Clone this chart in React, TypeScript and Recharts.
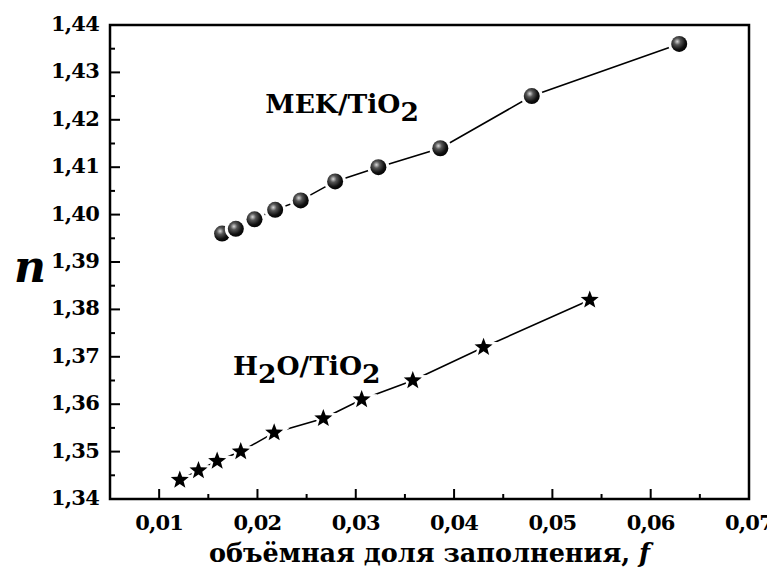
import React from 'react';
import { ScatterChart, Scatter, XAxis, YAxis, ReferenceArea, ReferenceDot } from 'recharts';

const mekF = [0.0164, 0.0178, 0.0197, 0.0218, 0.0244, 0.0279, 0.0323, 0.0386, 0.0479, 0.0629];
const mekN = [1.396, 1.397, 1.399, 1.401, 1.403, 1.407, 1.41, 1.414, 1.425, 1.436];
const h2oF = [0.0121, 0.014, 0.0159, 0.0183, 0.0217, 0.0267, 0.0306, 0.0358, 0.043, 0.0538];
const h2oN = [1.344, 1.346, 1.348, 1.35, 1.354, 1.357, 1.361, 1.365, 1.372, 1.382];

const xTicks = [0.01, 0.015, 0.02, 0.025, 0.03, 0.035, 0.04, 0.045, 0.05, 0.055, 0.06, 0.065, 0.07];
const yTicks = [1.34, 1.345, 1.35, 1.355, 1.36, 1.365, 1.37, 1.375, 1.38, 1.385, 1.39, 1.395, 1.4, 1.405, 1.41, 1.415, 1.42, 1.425, 1.43, 1.435, 1.44];

const xLabel = 'объёмная доля заполнения, ';
const yLabel = 'n';
const mekLabel = { x: 0.0208, y: 1.4214 };
const h2oLabel = { x: 0.0175, y: 1.3662 };

const mekData = mekF.map((f, i) => ({ f, n: mekN[i] }));
const h2oData = h2oF.map((f, i) => ({ f, n: h2oN[i] }));

const FONT = "'DejaVu Serif', serif";
const TICK_SIZE = 10;
const txt = (size: number, extra: any = {}) => ({ fontFamily: FONT, fontWeight: 'bold', fontSize: size, fill: '#000', ...extra });

const fmt = (v: number) => v.toFixed(2).replace('.', ',');

const XTick = (props: any) => {
  const { x, y, payload } = props;
  const v = payload.value as number;
  const major = Math.round(v * 1000) % 10 === 0;
  const axisY = y - TICK_SIZE;
  return (
    <g>
      <line x1={x} x2={x} y1={axisY} y2={axisY - (major ? 10 : 5)} stroke="#000" strokeWidth={2} />
      {major && (
        <text x={x} y={axisY + 31} textAnchor="middle" style={txt(21, { letterSpacing: -0.8 })}>
          {fmt(v)}
        </text>
      )}
    </g>
  );
};

const YTick = (props: any) => {
  const { x, y, payload } = props;
  const v = payload.value as number;
  const major = Math.round(v * 1000) % 10 === 0;
  const axisX = x + TICK_SIZE;
  return (
    <g>
      <line x1={axisX} x2={axisX + (major ? 10 : 5)} y1={y} y2={y} stroke="#000" strokeWidth={2} />
      {major && (
        <text x={axisX - 11} y={y + 6} textAnchor="end" style={txt(21, { letterSpacing: -0.8 })}>
          {fmt(v)}
        </text>
      )}
    </g>
  );
};

const Sphere = (props: any) => {
  const { cx, cy } = props;
  if (cx == null || cy == null) return null;
  return (
    <g>
      <defs>
        <radialGradient id="sph" cx="0.38" cy="0.35" r="0.7">
          <stop offset="0%" stopColor="#d8d8d8" />
          <stop offset="30%" stopColor="#555" />
          <stop offset="70%" stopColor="#111" />
          <stop offset="100%" stopColor="#000" />
        </radialGradient>
      </defs>
      <circle cx={cx} cy={cy} r={11} fill="#fff" />
      <circle cx={cx} cy={cy} r={8} fill="url(#sph)" />
    </g>
  );
};

const Star = (props: any) => {
  const { cx, cy } = props;
  if (cx == null || cy == null) return null;
  const R = 9.5;
  const r = 4;
  const pts: string[] = [];
  for (let k = 0; k < 10; k++) {
    const rad = k % 2 === 0 ? R : r;
    const a = -Math.PI / 2 + (k * Math.PI) / 5;
    pts.push(`${cx + rad * Math.cos(a)},${cy + rad * Math.sin(a)}`);
  }
  const d = pts.join(' ');
  return (
    <g>
      <polygon points={d} fill="#fff" stroke="#fff" strokeWidth={5} />
      <polygon points={d} fill="#000" />
    </g>
  );
};

const Annot = (kind: string) => (props: any) => {
  const { viewBox } = props;
  const x = viewBox.x + (viewBox.width || 0) / 2;
  const y = viewBox.y + (viewBox.height || 0) / 2;
  return (
    <text x={x} y={y} style={txt(26.5)}>
      {kind === 'MEK' ? (
        <>
          <tspan>MEK/TiO</tspan>
          <tspan dy={8}>2</tspan>
        </>
      ) : (
        <>
          <tspan>H</tspan>
          <tspan dy={8}>2</tspan>
          <tspan dy={-8}>O/TiO</tspan>
          <tspan dy={8}>2</tspan>
        </>
      )}
    </text>
  );
};

const XLabel = (props: any) => {
  const { viewBox } = props;
  const cx = viewBox.x + viewBox.width / 2;
  return (
    <text x={cx} y={viewBox.y + 63} textAnchor="middle" style={txt(25.5)}>
      <tspan>{xLabel}</tspan>
      <tspan style={{ fontStyle: 'italic' }}>f</tspan>
    </text>
  );
};

const YLabel = () => {
  return (
    <text x={6} y={274} style={txt(44, { fontStyle: 'italic' })}>
      {yLabel}
    </text>
  );
};

export default function App() {
  return (
    <div style={{ width: 767, height: 559, background: '#fff' }}>
      <ScatterChart width={767} height={559} margin={{ top: 17, right: 26, left: 22, bottom: 0 }}>
        <XAxis
          type="number"
          dataKey="f"
          domain={[0.005, 0.07]}
          ticks={xTicks}
          interval={0}
          tick={<XTick />}
          tickLine={false}
          tickSize={TICK_SIZE}
          tickMargin={0}
          height={68}
          axisLine={{ stroke: '#000', strokeWidth: 2 }}
          allowDataOverflow
          label={<XLabel />}
        />
        <YAxis
          type="number"
          dataKey="n"
          domain={[1.34, 1.44]}
          ticks={yTicks}
          interval={0}
          tick={<YTick />}
          tickLine={false}
          tickSize={TICK_SIZE}
          tickMargin={0}
          width={80}
          axisLine={{ stroke: '#000', strokeWidth: 2 }}
          allowDataOverflow
          label={<YLabel />}
        />
        <ReferenceArea x1={0.005} x2={0.07} y1={1.34} y2={1.44} fill="none" stroke="#000" strokeWidth={2.5} ifOverflow="visible" />
        <Scatter
          data={mekData}
          line={{ stroke: '#000', strokeWidth: 1.6 }}
          shape={<Sphere />}
          isAnimationActive={false}
        />
        <Scatter
          data={h2oData}
          line={{ stroke: '#000', strokeWidth: 1.6 }}
          shape={<Star />}
          isAnimationActive={false}
        />
        <ReferenceDot x={mekLabel.x} y={mekLabel.y} r={0} fill="none" stroke="none" label={Annot('MEK')} ifOverflow="visible" />
        <ReferenceDot x={h2oLabel.x} y={h2oLabel.y} r={0} fill="none" stroke="none" label={Annot('H2O')} ifOverflow="visible" />
      </ScatterChart>
    </div>
  );
}
